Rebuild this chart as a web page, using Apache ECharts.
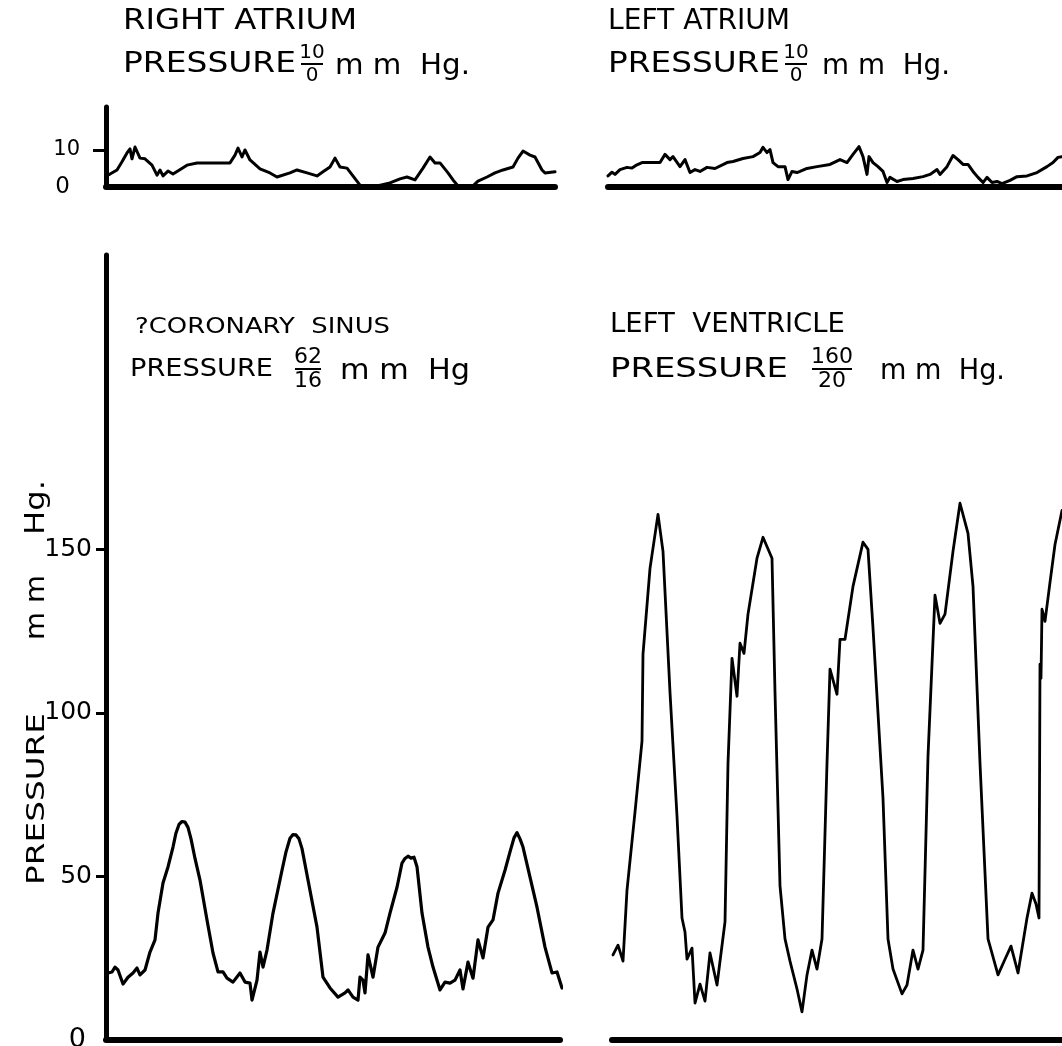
<!DOCTYPE html>
<html>
<head>
<meta charset="utf-8">
<script src="https://cdn.jsdelivr.net/npm/echarts@6/dist/echarts.min.js"></script>
<style>html,body{margin:0;padding:0;background:#fff}#c{width:1062px;height:1046px}</style>
</head>
<body>
<div id="c"></div>
<script>
// ---- Data (time in arbitrary units from start of each trace, pressure in mm Hg) ----
const raTime = [0,4,11,16,21,24,26,29,31,34,39,46,51,54,57,62,67,81,91,124,129,132,136,139,144,154,164,171,184,191,201,211,217,224,229,234,241,254,271,284,294,301,309,317,324,329,334,342,347,352,367,372,381,389,397,407,412,417,424,429,436,439,449];
const raPressure = [3.0,3.5,4.6,6.8,9.2,10.3,7.6,10.8,11.1,7.8,7.6,5.9,3.2,4.6,3.0,4.3,3.5,5.9,6.5,6.5,8.6,10.5,8.1,10.0,7.3,4.9,3.8,2.7,3.8,4.6,3.8,3.0,4.1,5.4,7.8,5.4,5.1,0.5,0.3,1.1,2.2,2.7,1.9,5.1,8.1,6.5,6.5,3.8,1.9,0.3,0.3,1.6,2.7,3.8,4.6,5.4,7.8,9.7,8.6,8.1,4.6,3.8,4.1];

const laTime = [0,4,7,12,19,24,29,34,44,52,57,62,65,72,77,82,87,92,99,107,119,125,135,145,152,155,159,162,165,170,177,180,184,189,192,199,209,222,232,239,245,251,255,259,261,265,270,275,279,282,289,295,305,315,322,329,332,339,345,350,355,360,365,370,375,379,384,389,394,402,409,419,429,439,445,450,454];
const laPressure = [3.0,4.0,3.4,4.7,5.3,5.1,6.0,6.6,6.6,6.6,8.8,7.4,8.2,5.5,7.4,3.9,4.7,4.2,5.3,5.0,6.6,6.9,7.7,8.2,9.3,10.7,9.3,10.1,6.6,5.5,5.5,2.0,4.2,3.9,4.2,5.0,5.5,6.1,7.4,6.6,8.8,10.9,8.2,3.4,8.2,6.6,5.5,4.2,1.2,2.6,1.5,2.0,2.3,2.8,3.4,4.7,3.4,5.5,8.5,7.4,6.1,6.1,4.2,2.6,1.2,2.6,1.2,1.5,0.9,1.8,2.8,3.0,3.9,5.5,6.6,8.0,8.2];

const csTime = [2,6,9,12,17,22,27,31,34,39,44,49,52,57,62,67,70,73,76,79,82,85,89,94,101,107,112,117,121,127,134,139,144,146,151,154,157,161,167,176,180,184,187,190,193,196,202,211,217,224,232,239,242,247,252,254,257,259,262,267,272,279,284,291,296,299,302,305,308,311,316,322,327,334,339,344,349,354,357,362,367,372,377,382,387,392,399,404,408,411,414,417,424,431,439,446,451,456];
const csPressure = [20.5,20.8,22.3,21.4,17.1,19.2,20.5,22.0,19.9,21.4,26.9,30.6,38.8,48.0,52.9,59.0,63.3,65.9,66.8,66.6,65.0,61.5,55.5,48.9,36.7,26.6,20.8,20.8,18.9,17.7,20.5,17.7,17.4,12.2,18.3,26.9,22.3,27.5,38.8,51.9,57.5,61.7,62.8,62.7,61.5,58.5,48.9,34.5,19.2,15.9,13.1,14.4,15.3,13.1,12.2,19.2,18.3,14.4,26.0,19.2,28.4,32.7,38.8,46.7,54.1,55.5,56.2,55.6,55.9,53.0,38.8,28.4,22.3,15.3,17.7,17.4,18.3,21.4,15.6,23.8,18.9,30.6,25.1,34.5,36.7,44.9,51.9,57.5,61.8,63.4,61.5,59.0,49.8,40.6,28.4,20.5,20.8,15.9];

const lvTime = [1,6,11,15,23,30,31,38,46,51,58,65,70,73,75,80,83,88,93,98,105,113,116,120,125,128,132,136,145,151,160,163,168,173,178,185,190,195,200,205,210,215,218,225,228,233,241,251,256,261,271,276,281,290,295,301,306,311,316,323,328,333,341,348,356,361,368,376,386,393,399,406,415,420,424,427,428,429,430,433,438,443,450];
const lvPressure = [26.0,29.0,24.1,45.8,69.7,91.4,118.0,144.2,160.7,149.4,106.3,68.4,37.3,33.0,24.7,28.1,11.3,17.1,11.9,26.6,16.8,36.1,84.6,116.7,105.1,121.3,118.2,130.2,147.3,153.7,147.3,106.3,47.1,30.9,24.1,15.6,8.6,19.9,27.5,21.7,30.9,84.6,113.4,105.7,122.5,122.5,138.7,152.2,150.0,125.9,73.9,30.9,21.7,14.1,16.8,27.5,21.7,27.5,86.8,136.0,127.4,130.2,149.4,164.1,154.9,138.7,84.6,30.9,19.9,24.7,28.7,20.5,37.3,44.9,41.6,37.3,114.9,110.6,131.7,128.0,139.9,151.5,161.9];

const smallTicks = [10];
const smallLabels = [0, 10];
const bigTicks = [50, 100, 150];
const bigLabels = [0, 50, 100, 150];

// ---- Chart ----
const zip = (t, p) => t.map((v, i) => [v, p[i]]);
const FONT = "'DejaVu Sans', sans-serif";
const chart = echarts.init(document.getElementById('c'), null, {renderer: 'canvas'});
const mctx = document.createElement('canvas').getContext('2d');
function measure(s, size) { mctx.font = size + 'px ' + FONT; return mctx.measureText(s).width; }

function xAx(i, max) {
  return {gridIndex: i, type: 'value', min: 0, max: max,
    axisLine: {show: true, onZero: true, lineStyle: {color: '#000', width: 6, cap: 'round'}},
    axisTick: {show: false}, axisLabel: {show: false}, splitLine: {show: false}};
}
function yAx(i, max, show, ticks, labels, fs, tickLen, margin, zeroPad) {
  return {gridIndex: i, type: 'value', min: 0, max: max,
    axisLine: {show: show, onZero: false, lineStyle: {color: '#000', width: 5, cap: 'round'}},
    axisTick: {show: show, customValues: ticks, length: tickLen, lineStyle: {color: '#000', width: 3}},
    axisLabel: {show: show, customValues: labels, color: '#000', fontFamily: FONT, fontSize: fs, margin: margin,
      formatter: v => (v === 0 ? '{z|0}' : String(v)),
      rich: {z: {fontFamily: FONT, fontSize: fs + 2, color: '#000', padding: [0, zeroPad, 0, 0]}}},
    splitLine: {show: false}};
}
function trace(i, data, w) {
  return {type: 'line', xAxisIndex: i, yAxisIndex: i, data: data, showSymbol: false, symbol: 'none',
    smooth: false, lineStyle: {color: '#000', width: w, join: 'round', cap: 'round'}, silent: true, animation: false};
}
// text fitted to the width it occupies in the reference
function txt(x, y, s, size, w, rot) {
  const sx = w ? w / measure(s, size) : 1;
  return {type: 'text', x: x, y: y, scaleX: sx, rotation: rot || 0, silent: true,
    style: {text: s, fill: '#000', font: size + 'px ' + FONT, textAlign: 'left', textVerticalAlign: 'middle'}};
}
function ctxt(x, y, s, size) {
  return {type: 'text', x: x, y: y, silent: true,
    style: {text: s, fill: '#000', font: size + 'px ' + FONT, textAlign: 'center', textVerticalAlign: 'middle'}};
}
function frac(cx, y, top, bot, size, w) {
  return [
    ctxt(cx, y - size * 0.55, top, size),
    {type: 'line', silent: true, shape: {x1: cx - w / 2, y1: y, x2: cx + w / 2, y2: y}, style: {stroke: '#000', lineWidth: 2}},
    ctxt(cx, y + size * 0.58, bot, size)
  ];
}

const noBounds = {outerBoundsMode: 'none', containLabel: false};
const option = {
  backgroundColor: '#fff',
  animation: false,
  grid: [
    Object.assign({left: 106, top: 107, width: 449, height: 80}, noBounds),
    Object.assign({left: 608, top: 107, width: 454, height: 80}, noBounds),
    Object.assign({left: 106, top: 255, width: 454, height: 785}, noBounds),
    Object.assign({left: 612, top: 255, width: 450, height: 785}, noBounds)
  ],
  xAxis: [xAx(0, 449), xAx(1, 454), xAx(2, 454), xAx(3, 450)],
  yAxis: [
    yAx(0, 21.6, true, smallTicks, smallLabels, 21, 13, 26, 10),
    yAx(1, 21.6, false, smallTicks, smallLabels, 21, 13, 26, 10),
    yAx(2, 240, true, bigTicks, bigLabels, 25, 10, 14, 6),
    yAx(3, 240, false, bigTicks, bigLabels, 25, 10, 14, 6)
  ],
  series: [
    trace(0, zip(raTime, raPressure), 3),
    trace(1, zip(laTime, laPressure), 3),
    trace(2, zip(csTime, csPressure), 3.2),
    trace(3, zip(lvTime, lvPressure), 2.8)
  ],
  graphic: [
    txt(123, 22, 'RIGHT ATRIUM', 28, 234),
    txt(123, 65, 'PRESSURE', 28, 173),
    ...frac(312, 64, '10', '0', 20, 22),
    txt(335, 66, 'm m  Hg.', 29, 135),
    txt(608, 22, 'LEFT ATRIUM', 28, 182),
    txt(608, 65, 'PRESSURE', 28, 172),
    ...frac(796, 64, '10', '0', 20, 22),
    txt(822, 66, 'm m  Hg.', 29, 128),
    txt(135, 327, '?CORONARY  SINUS', 22, 255),
    txt(130, 370, 'PRESSURE', 24, 143),
    ...frac(308, 369, '62', '16', 22, 26),
    txt(340, 371, 'm m  Hg', 29, 130),
    txt(610, 325, 'LEFT  VENTRICLE', 26, 235),
    txt(610, 370, 'PRESSURE', 27, 178),
    ...frac(832, 369, '160', '20', 22, 40),
    txt(880, 371, 'm m  Hg.', 29, 125),
    txt(37, 885, 'PRESSURE', 25, 172, Math.PI / 2),
    txt(37, 640, 'm m', 26, 65, Math.PI / 2),
    txt(37, 535, 'Hg.', 26, 55, Math.PI / 2)
  ]
};
chart.setOption(option);
</script>
</body>
</html>
